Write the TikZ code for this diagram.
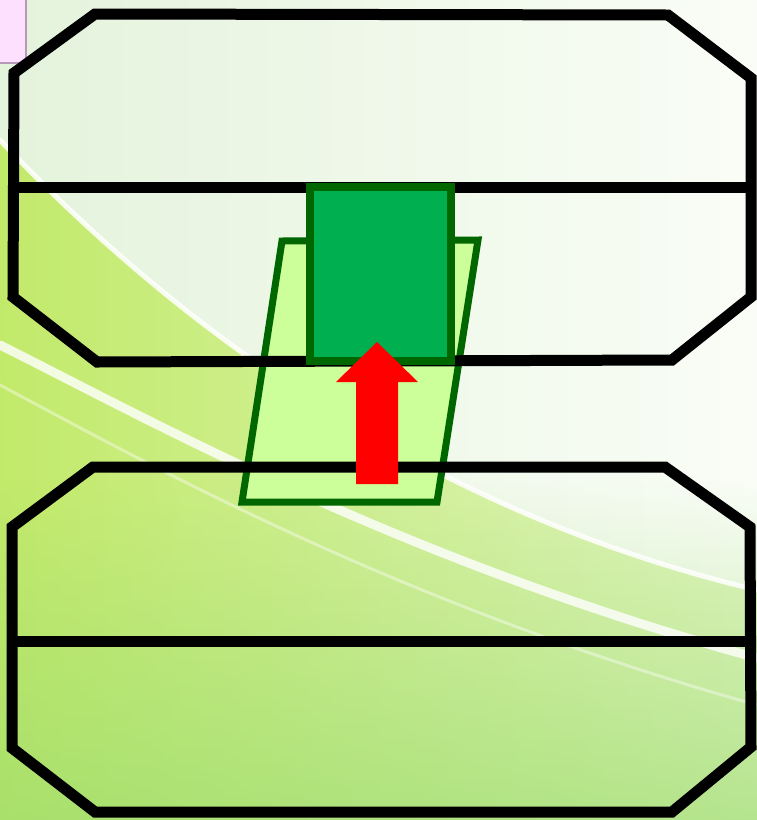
\documentclass[tikz,border=0pt]{standalone}
\usetikzlibrary{shadings,fadings}
\definecolor{palebg}{HTML}{F2FAEA}
\definecolor{paletop}{HTML}{E4F3DC}
\definecolor{ygreen}{HTML}{C2EA6A}
\definecolor{ygreenlight}{HTML}{E2F5C4}
\definecolor{deepbg}{HTML}{98DA6C}
\definecolor{pinkbox}{HTML}{FDE0FD}
\definecolor{pinkedge}{HTML}{B898B8}
\definecolor{lightfill}{HTML}{CCFF99}
\definecolor{darkedge}{HTML}{006600}
\definecolor{squarefill}{HTML}{00B050}
\tikzset{
  frame/.style={draw=black, line width=11pt, line join=miter},
  divider/.style={draw=black, line width=11pt},
  slab/.style={draw=darkedge, fill=lightfill, line width=7pt, line join=miter},
  block/.style={draw=darkedge, fill=squarefill, line width=7.5pt, line join=miter},
  uparrow/.style={fill=red, draw=none},
  swoosh/.style={draw=white, line cap=round}
}
\begin{document}
\begin{tikzpicture}[x=1pt,y=-1pt]
\useasboundingbox (0,0) rectangle (757,820);
% background
\shade[left color=paletop, right color=white!60!palebg] (0,0) rectangle (757,820);
\shade[left color=ygreen, right color=ygreenlight]
  (0,140) .. controls (170,320) and (420,510) .. (757,590) -- (757,820) -- (0,820) -- cycle;
\fill[deepbg, opacity=0.6, path fading=north] (0,480) rectangle (757,820);
\draw[swoosh, line width=5pt, opacity=0.85]
  (0,140) .. controls (170,320) and (420,510) .. (757,590);
\draw[swoosh, line width=9pt, opacity=0.8]
  (0,345) .. controls (150,420) and (400,560) .. (757,658);
\draw[swoosh, line width=3pt, opacity=0.4]
  (0,385) .. controls (150,465) and (400,605) .. (757,705);
% pink box
\fill[pinkbox] (0,0) rectangle (26,63);
\draw[pinkedge, line width=1.2pt] (26,0) -- (26,63) -- (0,63);
% parallelogram slab
\path[slab] (282,241) -- (478,240) -- (437,502) -- (242,502) -- cycle;
% top octagon
\path[frame] (95,14) -- (668,15) -- (751,78) -- (751,297) -- (672,360) -- (97,362) -- (13,297) -- (14,73) -- cycle;
\path[divider] (14,187) -- (751,187);
% bottom octagon
\path[frame] (93,467) -- (665,467) -- (750,527) -- (751,747) -- (672,812) -- (95,812) -- (12,748) -- (12,527) -- cycle;
\path[divider] (12,641) -- (751,641);
% green square
\path[block] (310,187) rectangle (451,361);
% red arrow
\path[uparrow] (377,342) -- (418,382) -- (398,382) -- (398,484) -- (356,484) -- (356,382) -- (336,382) -- cycle;
\end{tikzpicture}
\end{document}
